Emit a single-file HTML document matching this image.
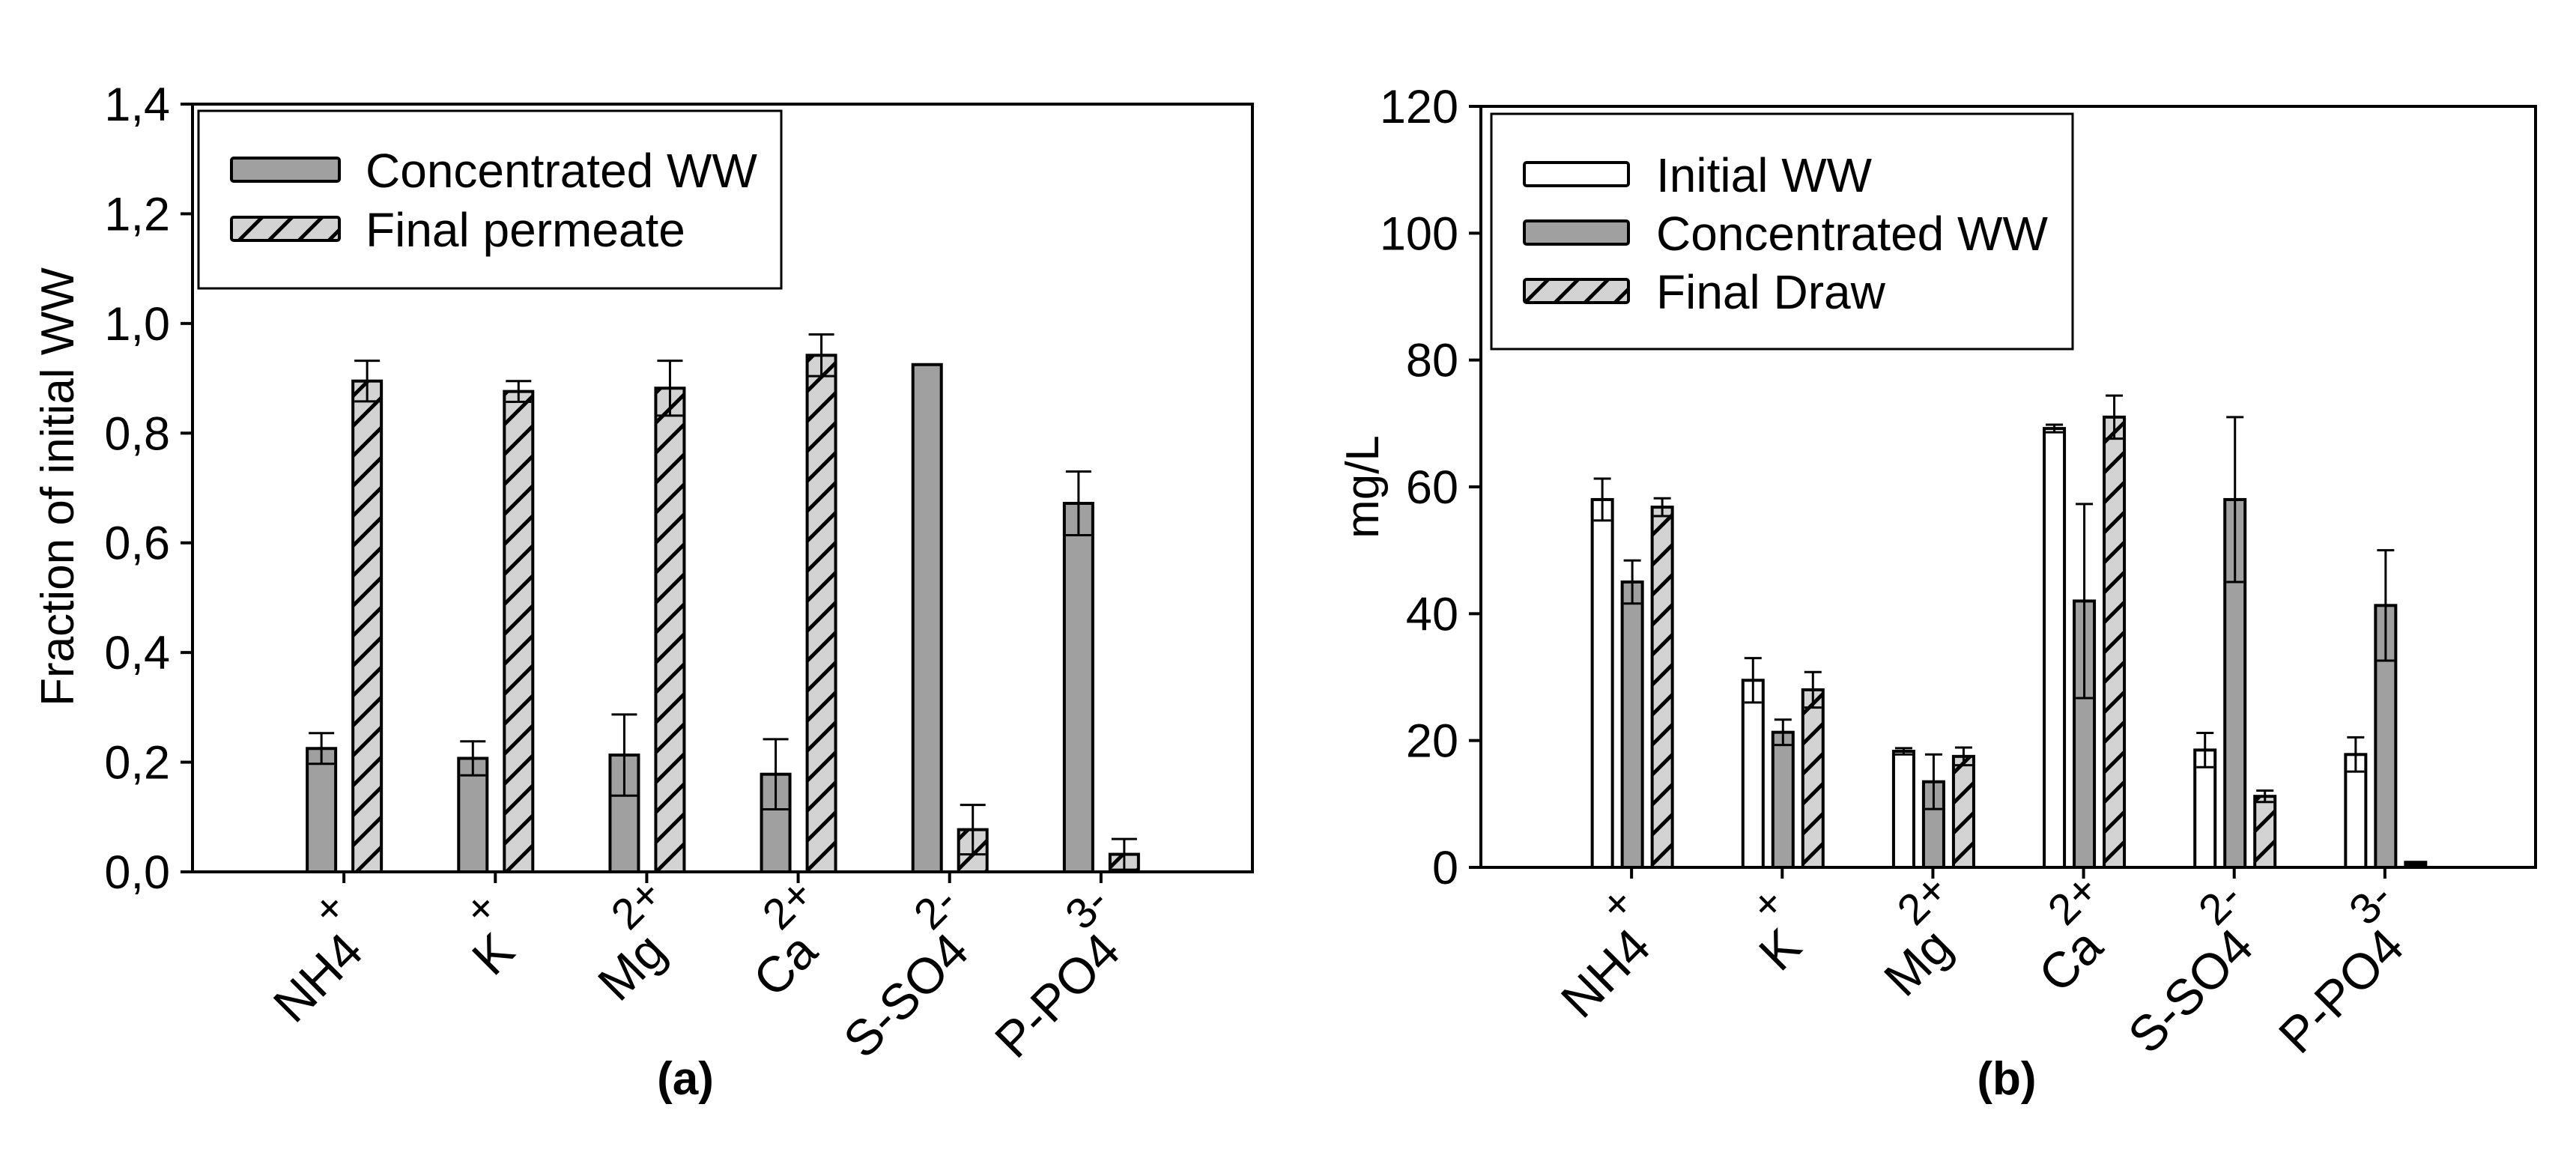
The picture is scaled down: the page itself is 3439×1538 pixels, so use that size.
<!DOCTYPE html>
<html><head><meta charset="utf-8"><style>
html,body{margin:0;padding:0;background:#fff;}
svg{display:block;font-family:"Liberation Sans",Arial,sans-serif;}
</style></head><body>
<svg id="fig" width="3439" height="1538" viewBox="0 0 3439 1538" xmlns="http://www.w3.org/2000/svg">
<defs>
<pattern id="hatch" patternUnits="userSpaceOnUse" width="40" height="40">
<rect width="40" height="40" fill="#d3d3d3"/>
<path d="M-5,45 L45,-5 M-5,5 L5,-5 M35,45 L45,35" stroke="#000" stroke-width="5"/>
</pattern>
</defs>
<g id="chartA"></g>
<g id="chartB"></g>
</svg>
<script>
const categories = ["NH4","K","Mg","Ca","S-SO4","P-PO4"];
const sups = ["+","+","2+","2+","2-","3-"];
// chart a
const aConc = [0.225,0.207,0.213,0.178,0.925,0.672];
const aConcErr = [0.028,0.031,0.074,0.064,0,0.058];
const aPerm = [0.895,0.876,0.882,0.942,0.077,0.032];
const aPermErr = [0.037,0.019,0.050,0.038,0.045,0.028];
const aTicks = ["0,0","0,2","0,4","0,6","0,8","1,0","1,2","1,4"];
// chart b
const bInit = [58,29.5,18.3,69.2,18.5,17.8];
const bInitErr = [3.3,3.5,0.5,0.6,2.7,2.7];
const bConc = [45,21.3,13.5,42,58,41.3];
const bConcErr = [3.4,2.0,4.3,15.3,13,8.7];
const bDraw = [56.8,28,17.5,71,11.2,0.8];
const bDrawErr = [1.4,2.8,1.4,3.4,0.9,0];
const bTicks = ["0","20","40","60","80","100","120"];

const NS="http://www.w3.org/2000/svg";
function mk(parent,tag,attrs,text){const e=document.createElementNS(NS,tag);for(const k in attrs)e.setAttribute(k,attrs[k]);if(text!==undefined)e.textContent=text;parent.appendChild(e);return e;}

function drawChart(g, cfg){
  const {x0,x1,y0,y1,ymax,ticks,series,legend,ytitle,label,labelX} = cfg;
  const xs = i => x0 + (x1-x0)/7*(i+1);
  const ys = v => y1 - (v/ymax)*(y1-y0);
  const fr = mk(g,'rect',{x:x0,y:y0,width:x1-x0,height:y1-y0,fill:'none',stroke:'#000','stroke-width':4});
  
  
  ticks.forEach((t,i)=>{
    const v = ymax/(ticks.length-1)*i;
    const y = ys(v);
    const tl = mk(g,'line',{x1:x0-16,x2:x0,y1:y,y2:y,stroke:'#000','stroke-width':4});
    
    
    const tx = mk(g,'text',{x:x0-30,y:y+22,'text-anchor':'end','font-size':63},t);
    
    
  });
  categories.forEach((c,i)=>{
    const x = xs(i);
    const tl = mk(g,'line',{x1:x,x2:x,y1:y1,y2:y1+15,stroke:'#000','stroke-width':4});
    
    
    const t = mk(g,'text',{transform:`translate(${x+29},${y1+110}) rotate(-45)`,'text-anchor':'end','font-size':67});
    
    
    t.textContent = c;
    const s = mk(g,'text',{transform:`translate(${x+29},${y1+110}) rotate(-45) translate(${-8 - (sups[i].length-1)*8},-58)`,'font-size':58},sups[i]);
    
    
  });
  series.forEach(sr=>{
    sr.vals.forEach((v,i)=>{
      const cx = xs(i)+sr.off;
      const bw = sr.w;
      const h = y1-ys(v);
      const r = mk(g,'rect',{x:cx-bw/2,y:ys(v),width:bw,height:h,fill:(h<12?'#000':sr.fill),stroke:'#000','stroke-width':4});
      
      
      const e = sr.err[i];
      if(e>0){
        const top=ys(v+e), bot=ys(v-e);
        const el = mk(g,'path',{d:`M${cx},${top}V${bot}M${cx-bw/2+2},${top}H${cx+bw/2-2}M${cx-bw/2+2},${bot}H${cx+bw/2-2}`,stroke:'#000','stroke-width':3,fill:'none'});
        
        
      }
    });
  });
  const lb = mk(g,'rect',{x:legend.x,y:legend.y,width:legend.w,height:legend.h,fill:'#fff',stroke:'#000','stroke-width':3});
  
  
  series.forEach((sr,k)=>{
    const py = legend.py + k*legend.dy;
    const p = mk(g,'rect',{x:legend.px,y:py,width:legend.pw,height:31,rx:3,fill:sr.fill,stroke:'#000','stroke-width':4});
    
    
    const t = mk(g,'text',{x:legend.tx,y:py+39,'font-size':64},sr.label);
    
    
  });
  const yt = mk(g,'text',{transform:`translate(${ytitle.x},${ytitle.y}) rotate(-90)`,'text-anchor':'middle','font-size':62},ytitle.text);
  
  
  const pl = mk(g,'text',{x:labelX,y:1461,'text-anchor':'middle','font-size':62,'font-weight':'bold'},label);
  
  
}

drawChart(document.getElementById('chartA'),{
  x0:257,x1:1672,y0:139,y1:1164,ymax:1.4,ticks:aTicks,
  series:[
    {name:'concentrated',label:'Concentrated WW',vals:aConc,err:aConcErr,fill:'#a0a0a0',off:-30,w:38},
    {name:'permeate',label:'Final permeate',vals:aPerm,err:aPermErr,fill:'url(#hatch)',off:31,w:38}
  ],
  legend:{x:265,y:148,w:778,h:237,px:309,pw:144,py:211,dy:79,tx:488},
  ytitle:{x:98,y:650,text:'Fraction of initial WW'},label:'(a)',labelX:915
});
drawChart(document.getElementById('chartB'),{
  x0:1977,x1:3385,y0:142,y1:1158,ymax:120,ticks:bTicks,
  series:[
    {name:'initial',label:'Initial WW',vals:bInit,err:bInitErr,fill:'#fff',off:-39,w:27},
    {name:'concentrated',label:'Concentrated WW',vals:bConc,err:bConcErr,fill:'#a0a0a0',off:1,w:27},
    {name:'draw',label:'Final Draw',vals:bDraw,err:bDrawErr,fill:'url(#hatch)',off:41,w:27}
  ],
  legend:{x:1991,y:152,w:776,h:314,px:2035,pw:139,py:217,dy:78,tx:2211},
  ytitle:{x:1840,y:650,text:'mg/L'},label:'(b)',labelX:2679
});
</script>
</body></html>
